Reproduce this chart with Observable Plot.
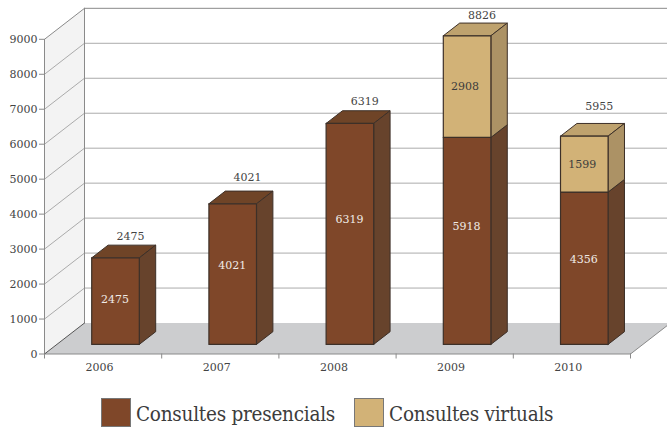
<!DOCTYPE html>
<html><head><meta charset="utf-8">
<script src="https://cdn.jsdelivr.net/npm/d3@7"></script>
<script src="https://cdn.jsdelivr.net/npm/@observablehq/plot@0.6"></script>
<style>
html,body{margin:0;padding:0;background:#fff;overflow:hidden}
svg{display:block}
#legend{position:absolute;left:101px;top:398px;display:flex;align-items:center;font-family:"DejaVu Serif Condensed","DejaVu Serif";color:#3c3c3c}
#legend i{display:block;width:28px;height:27px;border:1px solid #777;box-sizing:content-box}
#legend span{display:block;font-size:20.5px;letter-spacing:-0.25px;line-height:29px;white-space:nowrap;margin-left:5px;position:relative;top:1.5px}
</style></head><body>
<div id="chart"></div>
<div id="legend"></div>
<script>
const years = ["2006","2007","2008","2009","2010"];
const presencials = [2475,4021,6319,5918,4356];
const virtuals = [0,0,0,2908,1599];
const totals = [2475,4021,6319,8826,5955];
const yTicks = [0,1000,2000,3000,4000,5000,6000,7000,8000,9000];
const seriesNames = ["Consultes presencials","Consultes virtuals"];
const insideNudge = [-2,-9,-14,-14,-9];
const totalNudge = [-9,-14,-9,-8,-17];

const c = {brown:"#7f4729",brownTop:"#6f4427",brownSide:"#67432c",edge:"#3d3028",
  tan:"#d2b277",tanTop:"#bea26e",tanSide:"#ac9265",wall:"#f3f3f3",floor:"#cccdcf",
  grid:"#ababab",axis:"#8a8a8a",text:"#444"};

// oblique projection: depth 0 is the front plane of the chart, depth 1 the back wall
const depthX = 0.3413, depthY = 886;
const P = (u,v,d) => ({x:u+d*depthX, y:v+d*depthY});
const face = (pts,fill,stroke,sw=1) => Plot.line([...pts,pts[0]],{x:"x",y:"y",fill,stroke,strokeWidth:sw,strokeLinejoin:"miter",curve:"linear"});
const seg = (a,b,stroke,sw=1) => Plot.line([a,b],{x:"x",y:"y",stroke,strokeWidth:sw,curve:"linear"});

const barL = 0.297, barR = 0.703, d0 = 0.31, d1 = 0.72;
function block(i,lo,hi,front,top,side){
  const a=i+barL,b=i+barR;
  return [
    face([P(a,hi,d0),P(b,hi,d0),P(b,hi,d1),P(a,hi,d1)],top,c.edge),
    face([P(b,lo,d0),P(b,lo,d1),P(b,hi,d1),P(b,hi,d0)],side,c.edge),
    face([P(a,lo,d0),P(b,lo,d0),P(b,hi,d0),P(a,hi,d0)],front,c.edge,1.2)
  ];
}
const marks = [
  face([P(0,0,0),P(0,9000,0),P(0,9000,1),P(0,0,1)],c.wall,"none"),
  face([P(0,0,0),P(5,0,0),P(5,0,1),P(0,0,1)],c.floor,"none"),
  ...yTicks.slice(1,-1).map(v=>seg(P(0,v,0),P(0,v,1),c.grid)),
  ...yTicks.slice(1).map(v=>seg(P(0,v,1),P(5.37,v,1),v===9000?c.axis:c.grid)),
  seg(P(0,9000,0),P(0,9000,1),c.axis),
  seg(P(0,0,1),P(0,9000,1),c.axis),
  seg(P(0,0,0),P(0,9000,0),c.axis),
  seg(P(0,0,0),P(5,0,0),c.axis),
  seg(P(0,0,0),P(0,0,1),"#555"),
  seg(P(5,0,0),P(5,0,1),c.axis),
  Plot.axisY({ticks:yTicks,tickSize:5,tickPadding:2,tickFormat:d=>String(d),label:null,color:c.text,stroke:c.axis}),
  Plot.axisX({ticks:d3.range(6),tickSize:5,tickFormat:()=>"",label:null,stroke:c.axis}),
  Plot.text(years,{x:(d,i)=>i+0.5,y:0,text:d=>d,dx:-3.6,dy:13,fill:c.text}),
  ...years.flatMap((y,i)=>{
    const out=[...block(i,0,presencials[i],c.brown,c.brownTop,c.brownSide)];
    if(virtuals[i]) out.push(...block(i,presencials[i],totals[i],c.tan,c.tanTop,c.tanSide));
    const cx=i+(barL+barR)/2;
    out.push(Plot.text([P(cx,presencials[i]/2,d0)],{x:"x",y:"y",text:()=>String(presencials[i]),fill:"#f0ebe6",dy:insideNudge[i],dx:-0.5}));
    if(virtuals[i]) out.push(Plot.text([P(cx,presencials[i]+virtuals[i]/2,d0)],{x:"x",y:"y",text:()=>String(virtuals[i]),fill:"#3c3c3c",dx:-2}));
    out.push(Plot.text([P(cx,totals[i],d1)],{x:"x",y:"y",text:()=>String(totals[i]),fill:c.text,dy:totalNudge[i],dx:-1.5}));
    return out;
  })
];
const chart = Plot.plot({
  width:667,height:385,
  marginLeft:44,marginRight:37,marginTop:38.8,marginBottom:31.5,
  x:{type:"linear",domain:[0,5],axis:null},
  y:{type:"linear",domain:[0,9000],axis:null},
  style:{fontFamily:"DejaVu Serif",fontSize:"11px",background:"none",overflow:"visible"},
  marks
});
document.getElementById("chart").append(chart);
const lg=document.getElementById("legend");
[c.brown,c.tan].forEach((col,i)=>{
  const sw=document.createElement("i");sw.style.background=col;if(i)sw.style.marginLeft="19px";
  const t=document.createElement("span");t.textContent=seriesNames[i];
  lg.append(sw,t);
});
</script></body></html>
